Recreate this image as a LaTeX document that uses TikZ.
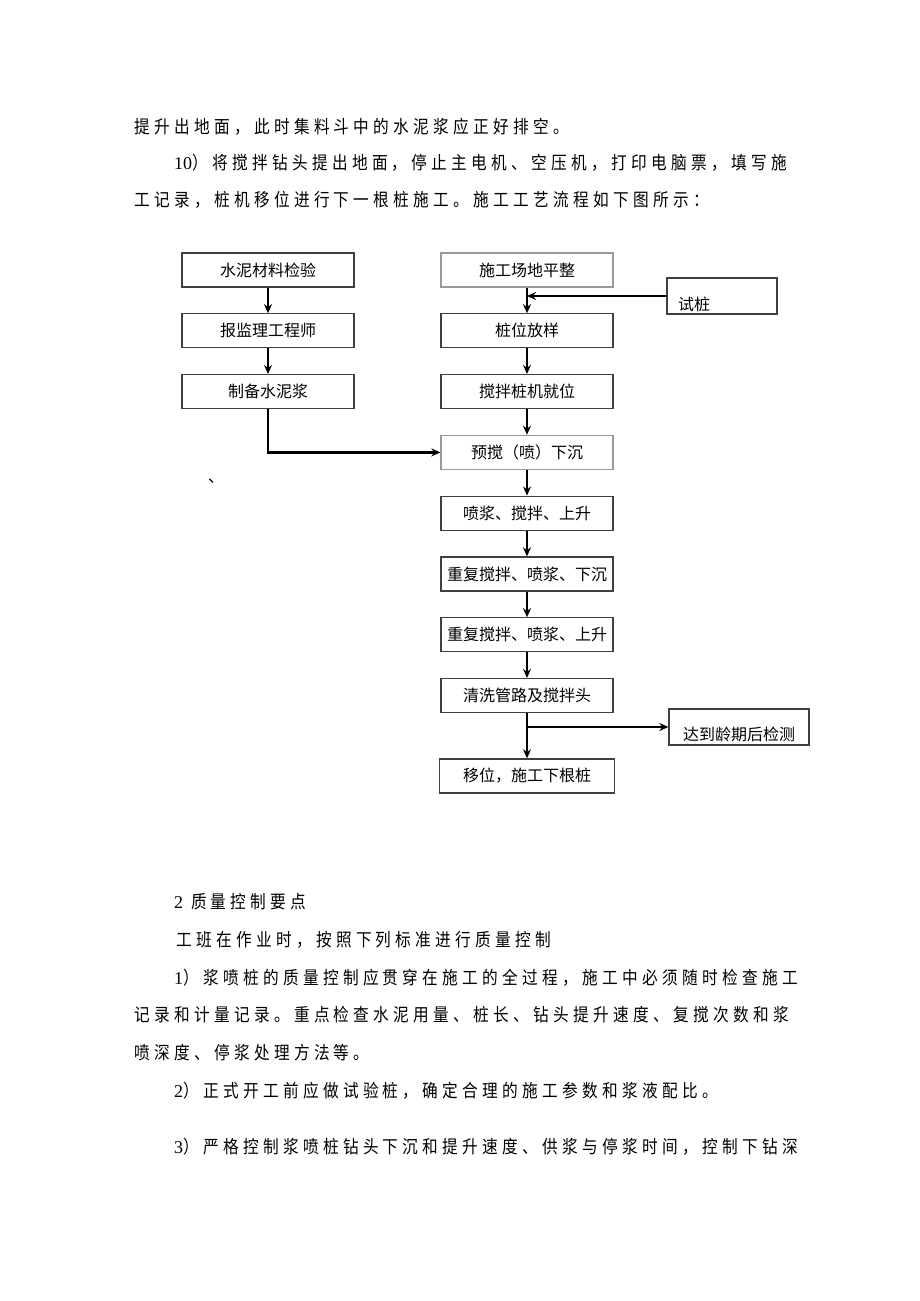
\documentclass[tikz,border=0pt]{standalone}
\usepackage{fontspec}
\setmainfont{Liberation Serif}
\newfontfamily\cjk{Noto Sans CJK SC}
\newfontfamily\bodycjk{Noto Sans CJK SC}[FakeStretch=0.87,LetterSpace=24]
\usetikzlibrary{positioning,arrows.meta}
\begin{document}
\begin{tikzpicture}[
   x=1pt,y=-1pt,
   node distance=25.5pt,
   txt/.style={anchor=west,inner sep=0pt,font=\fontsize{18}{20}\selectfont\bodycjk},
   box/.style={draw=black!75,line width=1.3pt,minimum width=172pt,minimum height=34pt,
     inner sep=3pt,font=\fontsize{16}{18}\selectfont\cjk},
   pale/.style={draw=black!40},
   arr/.style={-{Stealth[length=9pt,width=8pt]},line width=2.6pt}]
\useasboundingbox (0,0) rectangle (920,1301);
\fill[white] (0,0) rectangle (920,1301);
% text above
\node[txt] (p1) at (134,127) {提升出地面，此时集料斗中的水泥浆应正好排空。};
\node[txt] (p2) at (174,163) {{\rmfamily 10}）将搅拌钻头提出地面，停止主电机、空压机，打印电脑票，填写施};
\node[txt] (p3) at (134,200) {工记录，桩机移位进行下一根桩施工。施工工艺流程如下图所示：};
% flow chart
\node[box] (cem) at (268,270) {水泥材料检验};
\node[box,below=of cem] (sup) {报监理工程师};
\node[box,below=of sup] (mix) {制备水泥浆};
\node[box,pale] (site) at (527,270) {施工场地平整};
\node[box,below=of site] (lay) {桩位放样};
\node[box,below=of lay] (rig) {搅拌桩机就位};
\node[box,pale,below=of rig] (pre) {预搅（喷）下沉};
\node[box,below=of pre] (up1) {喷浆、搅拌、上升};
\node[box,below=of up1] (down2) {重复搅拌、喷浆、下沉};
\node[box,below=of down2] (up2) {重复搅拌、喷浆、上升};
\node[box,below=of up2] (wash) {清洗管路及搅拌头};
\node[box,below=45pt of wash,minimum width=175pt] (move) {移位，施工下根桩};
\node[box,minimum width=110pt,minimum height=36pt,text width=88pt,align=left,
  text height=28pt,text depth=0pt] (trial) at (722,296) {试桩};
\node[box,minimum width=140pt,minimum height=36pt,text height=27pt,text depth=0pt]
  (test) at (739,727) {达到龄期后检测};
\node[font=\fontsize{16}{18}\selectfont\cjk,inner sep=0pt] (mark) at (216,481) {、};
\draw[arr] (cem) -- (sup);
\draw[arr] (sup) -- (mix);
\draw[arr] (mix.south) |- (pre.west);
\draw[arr] (site) -- (lay);
\coordinate (tj) at (site.south |- trial.west);
\draw[arr] (trial.west) -- (tj);
\draw[arr] (lay) -- (rig);
\draw[arr] (rig) -- (pre);
\draw[arr] (pre) -- (up1);
\draw[arr] (up1) -- (down2);
\draw[arr] (down2) -- (up2);
\draw[arr] (up2) -- (wash);
\draw[arr] (wash) -- (move);
\coordinate (bj) at (wash.south |- test.west);
\draw[arr] (bj) -- (test.west);
% text below
\node[txt] (q1) at (174,902) {{\rmfamily 2} 质量控制要点};
\node[txt] (q2) at (176,940) {工班在作业时，按照下列标准进行质量控制};
\node[txt] (q3) at (174,978) {{\rmfamily 1}）浆喷桩的质量控制应贯穿在施工的全过程，施工中必须随时检查施工};
\node[txt] (q4) at (134,1015) {记录和计量记录。重点检查水泥用量、桩长、钻头提升速度、复搅次数和浆};
\node[txt] (q5) at (134,1053) {喷深度、停浆处理方法等。};
\node[txt] (q6) at (174,1091) {{\rmfamily 2}）正式开工前应做试验桩，确定合理的施工参数和浆液配比。};
\node[txt] (q7) at (174,1147) {{\rmfamily 3}）严格控制浆喷桩钻头下沉和提升速度、供浆与停浆时间，控制下钻深};
\end{tikzpicture}
\end{document}
